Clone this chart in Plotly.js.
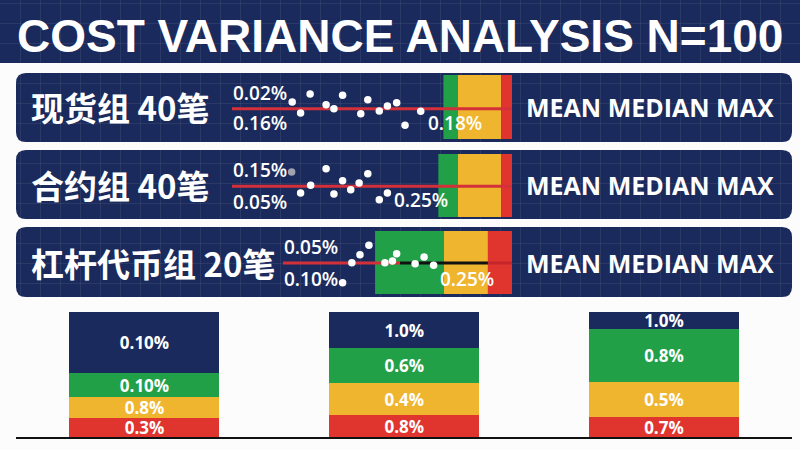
<!DOCTYPE html>
<html>
<head>
<meta charset="utf-8">
<script src="https://cdn.plot.ly/plotly-3.0.1.min.js"></script>
<style>html,body{margin:0;padding:0;background:#fcfcfc;}#chart{width:800px;height:450px;}</style>
</head>
<body>
<div id="chart"></div>
<script>
// ---------- data ----------
const chartTitle = 'COST VARIANCE ANALYSIS N=100';
const groupLabels = ['现货组 40笔', '合约组 40笔', '杠杆代币组 20笔'];
const statText = 'MEAN MEDIAN MAX';
const topLabels = ['0.02%', '0.15%', '0.05%'];
const bottomLabels = ['0.16%', '0.05%', '0.10%'];
const endLabels = ['0.18%', '0.25%', '0.25%'];

// dot positions (0-100 along the strip) and deviation from the mean line
const spotX   = [21.5, 24.5, 27.9, 33.6, 36.4, 39.5, 46.0, 48.5, 52.6, 55.5, 58.8, 61.8, 67.4];
const spotDev = [6.7, -4.3, 14.7, 4.0, 0, 13.4, -5.0, 9.0, -2.3, 2.7, 6.0, -16.6, -2.6];
const futX    = [24.5, 28.1, 33.6, 36.4, 39.5, 42.4, 45.4, 48.5, 52.6, 55.5];
const futDev  = [-6.7, 1.0, 17.6, -7.7, 5.6, -3.4, 3.3, 12.6, -13.4, -6.7];
const futOutX = [21.3];
const futOutDev = [14.3];
const levX    = [39.5, 42.8, 45.7, 48.9, 54.6, 57.3, 58.8, 65.4, 68.6, 72.0];
const levDev  = [-19.7, 0.3, 8.3, 17.7, 0.3, 2.0, 9.3, -0.7, 6.0, -2.3];

// zone edges: green start, yellow start, red start, end
const spotZones = [75.5, 80.7, 96.1, 100];
const futZones  = [73.7, 80.7, 96.1, 100];
const levZones  = [51.1, 75.7, 91.4, 100];

// mean lines
const spotLine = [0, 100];
const futLine  = [0, 100];
const levLineRed   = [18.2, 60];
const levLineBlack = [60, 91.4];
const levLineTail  = [91.4, 100];

// bottom stacked bars (share of bar height, %)
const barCats  = ['现货组', '合约组', '杠杆代币组'];
const redSeg    = [15.2, 17.6, 16.0];
const yellowSeg = [16.8, 25.6, 28.0];
const greenSeg  = [19.2, 28.0, 42.4];
const navySeg   = [48.8, 28.8, 13.6];
const redLbl    = ['0.3%', '0.8%', '0.7%'];
const yellowLbl = ['0.8%', '0.4%', '0.5%'];
const greenLbl  = ['0.10%', '0.6%', '0.8%'];
const navyLbl   = ['0.10%', '1.0%', '1.0%'];

// ---------- styling ----------
const NAVY = '#1b2a5c', GREEN = '#22a048', YELLOW = '#f0b52e', RED = '#e0342e', LINE_RED = '#d4303a';
const W = 800, H = 450;
function dom(top, bot) { return [(H - bot) / H, (H - top) / H]; }
function rr(x0, y0, x1, y1, r) {
  return `M${x0+r},${y0} H${x1-r} Q${x1},${y0} ${x1},${y0+r} V${y1-r} Q${x1},${y1} ${x1-r},${y1} H${x0+r} Q${x0},${y1} ${x0},${y1-r} V${y0+r} Q${x0},${y0} ${x0+r},${y0} Z`;
}

const panels = [
  {top: 73, bot: 142, bandTop: 75, bandBot: 139, lineY: 108.7, textY: 107, labX: 231, lowY: 123, upY: 93, endX: 426, endY: 123},
  {top: 150, bot: 219, bandTop: 154, bandBot: 217, lineY: 186.3, textY: 185, labX: 231, lowY: 202, upY: 170, endX: 392, endY: 200},
  {top: 227, bot: 297, bandTop: 231, bandBot: 294, lineY: 263, textY: 263, labX: 282, lowY: 279, upY: 247, endX: 438, endY: 279}
];
const zonesAll = [spotZones, futZones, levZones];
const zoneColors = [GREEN, YELLOW, RED];

const traces = [];
const layout = {
  width: W, height: H,
  margin: {l: 0, r: 0, t: 0, b: 0},
  paper_bgcolor: '#fcfcfc',
  plot_bgcolor: 'rgba(0,0,0,0)',
  showlegend: false,
  barmode: 'stack',
  xaxis: {domain: [0, 1], range: [0, W], showgrid: true, gridcolor: 'rgba(255,255,255,0.07)', dtick: 20, tick0: 0,
          zeroline: false, showticklabels: false, ticks: '', fixedrange: true},
  yaxis: {domain: [0, 1], range: [H, 0], showgrid: true, gridcolor: 'rgba(255,255,255,0.07)', dtick: 20, tick0: 3,
          zeroline: false, showticklabels: false, ticks: '', fixedrange: true},
  shapes: [
    {type: 'rect', xref: 'x', yref: 'y', x0: 0, x1: W, y0: 0, y1: 63, fillcolor: NAVY, line: {width: 0}, layer: 'below'}
  ],
  annotations: [
    {xref: 'x', yref: 'y', x: 400, y: 36, text: chartTitle, showarrow: false, xanchor: 'center', yanchor: 'middle',
     font: {family: 'Liberation Sans, Arial, sans-serif', size: 46, color: '#ffffff', weight: 700}}
  ]
};

// a dummy trace so the background subplot exists
traces.push({type: 'scatter', x: [0], y: [0], mode: 'markers', marker: {opacity: 0}, hoverinfo: 'skip', xaxis: 'x', yaxis: 'y'});

const dotSets = [
  [{x: spotX, y: spotDev, c: '#ffffff'}],
  [{x: futOutX, y: futOutDev, c: '#9ea3ad'}, {x: futX, y: futDev, c: '#ffffff'}],
  [{x: levX, y: levDev, c: '#ffffff'}]
];
const lineSets = [
  [{x: spotLine, c: LINE_RED}],
  [{x: futLine, c: LINE_RED}],
  [{x: levLineRed, c: LINE_RED}, {x: levLineBlack, c: '#111111'}, {x: levLineTail, c: '#c4262a'}]
];

panels.forEach((p, i) => {
  const n = i + 2;
  const xa = 'x' + n, ya = 'y' + n;
  const lo = -(p.bandBot - p.lineY), hi = p.lineY - p.bandTop;
  layout['xaxis' + n] = {domain: [232 / W, 512 / W], range: [0, 100], visible: false, fixedrange: true, anchor: ya};
  layout['yaxis' + n] = {domain: dom(p.bandTop, p.bandBot), range: [lo, hi], visible: false, fixedrange: true, anchor: xa};
  // panel background
  layout.shapes.push({type: 'path', xref: 'x', yref: 'y', path: rr(16, p.top, 792, p.bot, 10), fillcolor: NAVY, line: {width: 0}, layer: 'below'});
  // zones
  const z = zonesAll[i];
  for (let k = 0; k < 3; k++) {
    traces.push({type: 'scatter', xaxis: xa, yaxis: ya, mode: 'lines', fill: 'toself', fillcolor: zoneColors[k],
      line: {width: 0, color: zoneColors[k]}, hoverinfo: 'skip',
      x: [z[k], z[k + 1], z[k + 1], z[k], z[k]], y: [lo, lo, hi, hi, lo]});
  }
  // mean line(s)
  lineSets[i].forEach(s => {
    traces.push({type: 'scatter', xaxis: xa, yaxis: ya, mode: 'lines', x: s.x, y: [0, 0],
      line: {color: s.c, width: 3}, hoverinfo: 'skip'});
  });
  // dots
  dotSets[i].forEach(s => {
    traces.push({type: 'scatter', xaxis: xa, yaxis: ya, mode: 'markers', x: s.x, y: s.y,
      marker: {color: s.c, size: 7.5, line: {width: 0}}, hoverinfo: 'skip', cliponaxis: false});
  });
  // texts
  layout.annotations.push(
    {xref: 'x', yref: 'y', x: 29, y: p.textY, text: groupLabels[i], showarrow: false, xanchor: 'left', yanchor: 'middle',
     font: {family: 'Noto Sans CJK SC, sans-serif', size: 33, color: '#ffffff', weight: 700}},
    {xref: 'x', yref: 'y', x: 524, y: p.textY, text: statText, showarrow: false, xanchor: 'left', yanchor: 'middle',
     font: {family: 'Open Sans, sans-serif', size: 25, color: '#ffffff', weight: 700}},
    {xref: 'x', yref: 'y', x: p.labX, y: p.upY, text: topLabels[i], showarrow: false, xanchor: 'left', yanchor: 'middle',
     font: {family: 'Open Sans, sans-serif', size: 19, color: '#ffffff', weight: 600}},
    {xref: 'x', yref: 'y', x: p.labX, y: p.lowY, text: bottomLabels[i], showarrow: false, xanchor: 'left', yanchor: 'middle',
     font: {family: 'Open Sans, sans-serif', size: 19, color: '#ffffff', weight: 600}},
    {xref: 'x', yref: 'y', x: p.endX, y: p.endY, text: endLabels[i], showarrow: false, xanchor: 'left', yanchor: 'middle',
     font: {family: 'Open Sans, sans-serif', size: 19, color: '#ffffff', weight: 600}}
  );
});

// bottom stacked bars
layout.xaxis5 = {domain: [16 / W, 792 / W], range: [-0.4947, 2.493], type: 'category', showticklabels: false, ticks: '',
                 showgrid: false, zeroline: false, showline: true, linecolor: '#111111', linewidth: 2, fixedrange: true, anchor: 'y5'};
layout.yaxis5 = {domain: dom(312, 437), range: [0, 100], visible: false, fixedrange: true, anchor: 'x5'};
const segs = [
  {v: redSeg, t: redLbl, c: RED},
  {v: yellowSeg, t: yellowLbl, c: YELLOW},
  {v: greenSeg, t: greenLbl, c: GREEN},
  {v: navySeg, t: navyLbl, c: NAVY}
];
segs.forEach(s => {
  traces.push({type: 'bar', xaxis: 'x5', yaxis: 'y5', x: barCats, y: s.v, width: 0.5775,
    marker: {color: s.c, line: {width: 0}}, text: s.t, textposition: 'inside', insidetextanchor: 'middle',
    constraintext: 'none', textangle: 0,
    textfont: {family: 'Open Sans, sans-serif', size: 17, color: '#ffffff', weight: 700}, hoverinfo: 'skip'});
});

Plotly.newPlot('chart', traces, layout, {staticPlot: true, displayModeBar: false});
</script>
</body>
</html>
